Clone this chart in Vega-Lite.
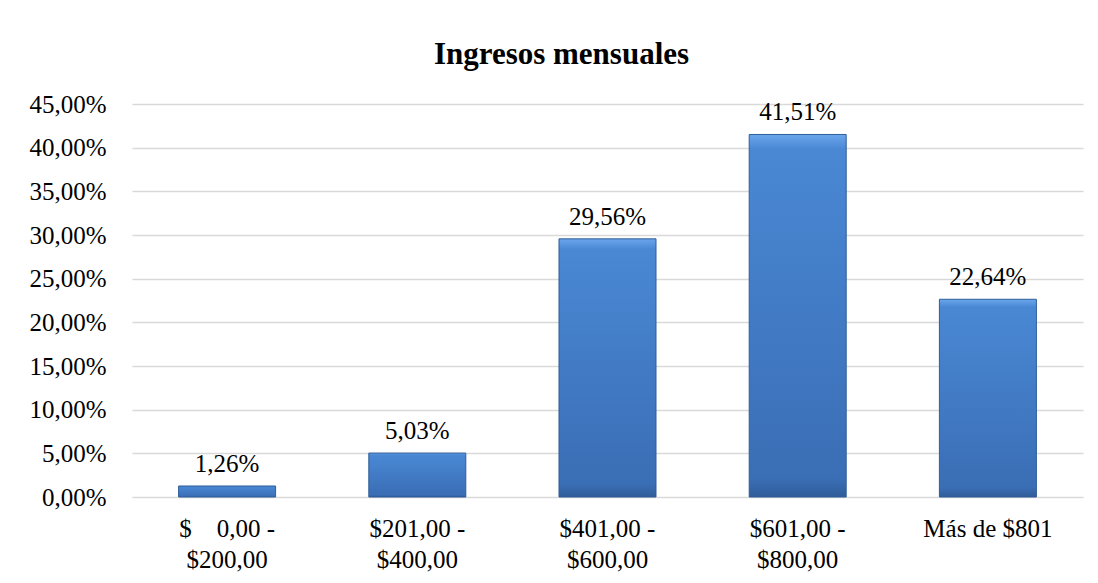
{
  "$schema": "https://vega.github.io/schema/vega-lite/v6.json",
  "width": 951,
  "height": 393,
  "autosize": "none",
  "padding": {"left": 132, "top": 104, "right": 15, "bottom": 86},
  "background": "white",
  "title": {
    "text": "Ingresos mensuales",
    "font": "Liberation Serif",
    "fontSize": 31,
    "fontWeight": "bold",
    "color": "#000000",
    "anchor": "middle",
    "baseline": "alphabetic",
    "dx": -46,
    "offset": -3
  },
  "config": {
    "locale": {"number": {"decimal": ",", "thousands": ".", "grouping": [3], "currency": ["$", ""]}},
    "view": {"stroke": null},
    "font": "Liberation Serif"
  },
  "data": {
    "values": [
      {"rango": "$\u00a0\u00a0\u00a0\u00a00,00 -\n$200,00", "pct": 0.0126},
      {"rango": "$201,00 -\n$400,00", "pct": 0.0503},
      {"rango": "$401,00 -\n$600,00", "pct": 0.2956},
      {"rango": "$601,00 -\n$800,00", "pct": 0.4151},
      {"rango": "Más de $801", "pct": 0.2264}
    ]
  },
  "encoding": {
    "x": {
      "field": "rango",
      "type": "nominal",
      "sort": null,
      "scale": {"paddingInner": 0.49, "paddingOuter": 0.245},
      "axis": {
        "title": null,
        "labelAngle": 0,
        "labelFont": "Liberation Serif",
        "labelFontSize": 25,
        "labelColor": "#000000",
        "labelLineHeight": 31,
        "labelPadding": 19,
        "labelExpr": "split(datum.label, '\\n')",
        "ticks": false,
        "domain": false
      }
    },
    "y": {
      "field": "pct",
      "type": "quantitative",
      "scale": {"domain": [0, 0.45], "nice": false},
      "axis": {
        "title": null,
        "values": [0, 0.05, 0.1, 0.15, 0.2, 0.25, 0.3, 0.35, 0.4, 0.45],
        "format": ".2%",
        "labelFont": "Liberation Serif",
        "labelFontSize": 25,
        "labelColor": "#000000",
        "labelPadding": 26,
        "ticks": false,
        "domain": false,
        "grid": true,
        "gridColor": "#d9d9d9",
        "gridWidth": 1.5
      }
    }
  },
  "layer": [
    {
      "mark": {
        "type": "bar",
        "stroke": "#2f5d99",
        "strokeWidth": 1,
        "fill": {
          "gradient": "linear",
          "x1": 0, "y1": 0, "x2": 0, "y2": 1,
          "stops": [
            {"offset": 0, "color": "#6aa6ec"},
            {"offset": 0.04, "color": "#4a88d4"},
            {"offset": 0.95, "color": "#3a6eb5"},
            {"offset": 1, "color": "#2f5d99"}
          ]
        }
      }
    },
    {
      "mark": {
        "type": "text",
        "font": "Liberation Serif",
        "fontSize": 25,
        "color": "#000000",
        "baseline": "alphabetic",
        "dy": -14
      },
      "encoding": {
        "text": {"field": "pct", "type": "quantitative", "format": ".2%"}
      }
    }
  ]
}
